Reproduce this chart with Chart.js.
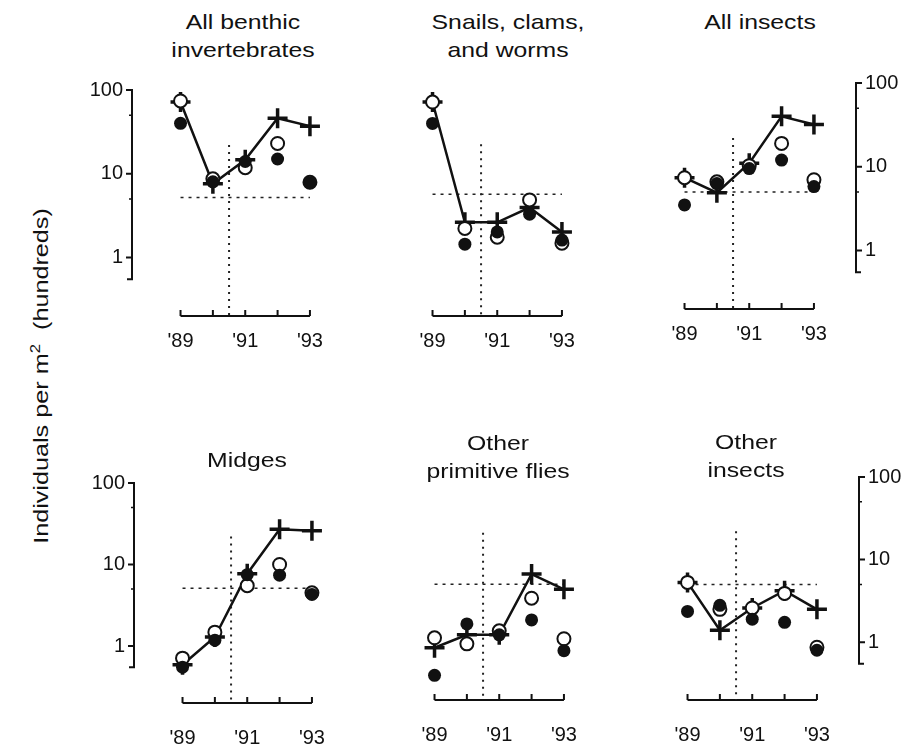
<!DOCTYPE html>
<html>
<head>
<meta charset="utf-8">
<script src="https://cdn.jsdelivr.net/npm/chart.js@4.4.1/dist/chart.umd.min.js"></script>
<style>
  body { margin: 0; background: #fff; }
  #page { position: relative; width: 917px; height: 754px; overflow: hidden;
          font-family: "Liberation Sans", Arial, sans-serif; color: #111; }
  canvas { position: absolute; }
  .title { position: absolute; text-align: center; white-space: nowrap;
           font-size: 21px; line-height: 28px; transform: translate(-50%, -50%) scaleX(1.18); }
  #ylabel { position: absolute; left: 40px; top: 376px; white-space: nowrap; font-size: 21px;
            transform: translate(-50%, -50%) rotate(-90deg) scaleX(1.2); }
  #ylabel sup { font-size: 14px; }
</style>
</head>
<body>
<div id="page">
  <div id="ylabel">Individuals per m<sup>2</sup>&nbsp;&nbsp;(hundreds)</div>
</div>
<script>
// years and tick labels
const years = [1989, 1990, 1991, 1992, 1993];
const xTickYears = [1989, 1991, 1993];
const yTickValues = [1, 10, 100];
const yMinorTicks = [5, 50];

// dotted reference lines
const refYear = 1990.5;
const refTop = 22;
const refLevels = [5.2, 5.6, 5.0, 5.1, 5.2, 5.0];

// filled circles / open circles / plus line, per panel
const benthicFilled = [40, 8, 14, 15, 7.8];
const benthicOpen = [74, 8.7, 11.8, 23, 7.9];
const benthicPlus = [72, 7.6, 14.7, 46, 37];

const snailsFilled = [39, 1.43, 2.0, 3.25, 1.6];
const snailsOpen = [70, 2.2, 1.73, 4.8, 1.47];
const snailsPlus = [70, 2.6, 2.6, 3.9, 2.0];

const insectsFilled = [3.5, 6.3, 9.5, 12, 5.8];
const insectsOpen = [7.4, 6.6, 10.3, 19, 7.0];
const insectsPlus = [7.4, 4.9, 11, 40, 32];

const midgesFilled = [0.55, 1.18, 7.5, 7.4, 4.3];
const midgesOpen = [0.71, 1.48, 5.5, 10, 4.5];
const midgesPlus = [0.59, 1.29, 7.7, 27, 26];

const fliesFilled = [0.4, 1.7, 1.25, 1.9, 0.8];
const fliesOpen = [1.15, 0.97, 1.4, 3.5, 1.12];
const fliesPlus = [0.87, 1.25, 1.25, 6.9, 4.5];

const otherFilled = [2.36, 2.8, 1.9, 1.74, 0.8];
const otherOpen = [5.3, 2.5, 2.6, 3.9, 0.87];
const otherPlus = [5.3, 1.4, 2.6, 4.2, 2.5];

const panels = [
  { title: ["All benthic", "invertebrates"], tx: 243, ty: 36, filled: benthicFilled, open: benthicOpen, plus: benthicPlus, axis: "left", left: 132, top: 89, dec: 84, row: 0 },
  { title: ["Snails, clams,", "and worms"], tx: 508, ty: 36, filled: snailsFilled, open: snailsOpen, plus: snailsPlus, axis: "none", left: 384, top: 89, dec: 84, row: 0 },
  { title: ["All insects"], tx: 760, ty: 22, filled: insectsFilled, open: insectsOpen, plus: insectsPlus, axis: "right", left: 636, top: 82, dec: 84, row: 0 },
  { title: ["Midges"], tx: 247, ty: 460, filled: midgesFilled, open: midgesOpen, plus: midgesPlus, axis: "left", left: 134, top: 482, dec: 82, row: 1 },
  { title: ["Other", "primitive flies"], tx: 498, ty: 457, filled: fliesFilled, open: fliesOpen, plus: fliesPlus, axis: "none", left: 386, top: 479, dec: 82, row: 1 },
  { title: ["Other", "insects"], tx: 746, ty: 456, filled: otherFilled, open: otherOpen, plus: otherPlus, axis: "right", left: 639, top: 476, dec: 83, row: 1 }
];

const X_MIN = 1987.5, X_MAX = 1994.3, Y_MIN = 0.2, Y_MAX = 100;
const PAD_SIDE = 70, PAD_TOP = 20, X_AXIS_H = 55;
const FONT = { family: '"Liberation Sans", Arial, sans-serif', size: 20 };

/* axis lines drawn only over the data span, like the original */
const axesPlugin = {
  id: "axes",
  beforeDatasetsDraw(chart, args, opts) {
    const ctx = chart.ctx, x = chart.scales.x, y = chart.scales.y;
    ctx.save();
    ctx.strokeStyle = "#111";
    ctx.lineWidth = 2;
    // x axis with upward ticks
    const yb = chart.chartArea.bottom;
    ctx.beginPath();
    ctx.moveTo(x.getPixelForValue(years[0]), yb);
    ctx.lineTo(x.getPixelForValue(years[years.length - 1]), yb);
    years.forEach(v => {
      const px = x.getPixelForValue(v);
      ctx.moveTo(px, yb);
      ctx.lineTo(px, yb - 6);
    });
    ctx.stroke();
    // y axis
    if (opts.side !== "none") {
      const ax = opts.side === "left" ? chart.chartArea.left : chart.chartArea.right;
      const dir = opts.side === "left" ? -1 : 1;
      ctx.beginPath();
      ctx.moveTo(ax + dir * 5, y.getPixelForValue(Y_MAX));
      ctx.lineTo(ax, y.getPixelForValue(Y_MAX));
      ctx.lineTo(ax, y.getPixelForValue(0.55));
      ctx.lineTo(ax + dir * 5, y.getPixelForValue(0.55));
      yTickValues.forEach(v => {
        ctx.moveTo(ax, y.getPixelForValue(v));
        ctx.lineTo(ax + dir * 6, y.getPixelForValue(v));
      });
      ctx.stroke();
      ctx.lineWidth = 1.5;
      ctx.beginPath();
      yMinorTicks.forEach(v => {
        ctx.moveTo(ax, y.getPixelForValue(v));
        ctx.lineTo(ax + dir * 3, y.getPixelForValue(v));
      });
      ctx.stroke();
    }
    ctx.restore();
  }
};

const page = document.getElementById("page");

panels.forEach((p, i) => {
  const width = Math.round((X_MAX - X_MIN) * 32.4);
  const height = Math.round(Math.log10(Y_MAX / Y_MIN) * p.dec);
  const cv = document.createElement("canvas");
  cv.width = width + 2 * PAD_SIDE;
  cv.height = height + PAD_TOP + X_AXIS_H;
  cv.style.left = (p.left - PAD_SIDE) + "px";
  cv.style.top = (p.top - PAD_TOP) + "px";
  page.appendChild(cv);

  const t = document.createElement("div");
  t.className = "title";
  t.innerHTML = p.title.join("<br>");
  t.style.left = p.tx + "px";
  t.style.top = p.ty + "px";
  page.appendChild(t);

  const pts = arr => years.map((yr, k) => ({ x: yr, y: arr[k] }));

  new Chart(cv, {
    type: "scatter",
    data: {
      datasets: [
        { data: pts(p.filled), pointStyle: "circle", pointRadius: 6.5, backgroundColor: "#111", borderColor: "#111", borderWidth: 0, clip: false },
        { data: pts(p.open), pointStyle: "circle", pointRadius: 6.5, backgroundColor: "#fff", borderColor: "#111", borderWidth: 2, clip: false },
        { data: pts(p.plus), showLine: true, pointStyle: "cross", pointRadius: 10, pointBorderWidth: 3.5, borderColor: "#111", borderWidth: 2.5, clip: false },
        { data: [{ x: refYear, y: refTop }, { x: refYear, y: Y_MIN }], showLine: true, pointRadius: 0, borderColor: "#222", borderWidth: 2, borderDash: [2, 5] },
        { data: [{ x: years[0], y: refLevels[i] }, { x: years[years.length - 1], y: refLevels[i] }], showLine: true, pointRadius: 0, borderColor: "#222", borderWidth: 1.5, borderDash: [3, 5] }
      ]
    },
    options: {
      responsive: false,
      animation: false,
      layout: { padding: {
        left: p.axis === "left" ? 0 : PAD_SIDE,
        right: p.axis === "right" ? 0 : PAD_SIDE,
        top: PAD_TOP, bottom: 0 } },
      plugins: { legend: { display: false }, tooltip: { enabled: false }, axes: { side: p.axis } },
      scales: {
        x: {
          type: "linear", min: X_MIN, max: X_MAX,
          grid: { display: false, drawTicks: false }, border: { display: false },
          afterBuildTicks: s => { s.ticks = xTickYears.map(v => ({ value: v })); },
          afterFit: s => { s.height = X_AXIS_H; },
          ticks: { color: "#111", font: FONT, padding: p.row === 0 ? 13 : 23, maxRotation: 0,
                   callback: v => "'" + String(v).slice(2) }
        },
        y: {
          type: "logarithmic", min: Y_MIN, max: Y_MAX,
          display: p.axis !== "none",
          position: p.axis === "right" ? "right" : "left",
          grid: { display: false, drawTicks: false }, border: { display: false },
          afterBuildTicks: s => { s.ticks = yTickValues.map(v => ({ value: v })); },
          afterFit: s => { s.width = p.axis === "none" ? 0 : PAD_SIDE; },
          ticks: { color: "#111", font: FONT, padding: 9, callback: v => String(v) }
        }
      }
    },
    plugins: [axesPlugin]
  });
});
</script>
</body>
</html>
